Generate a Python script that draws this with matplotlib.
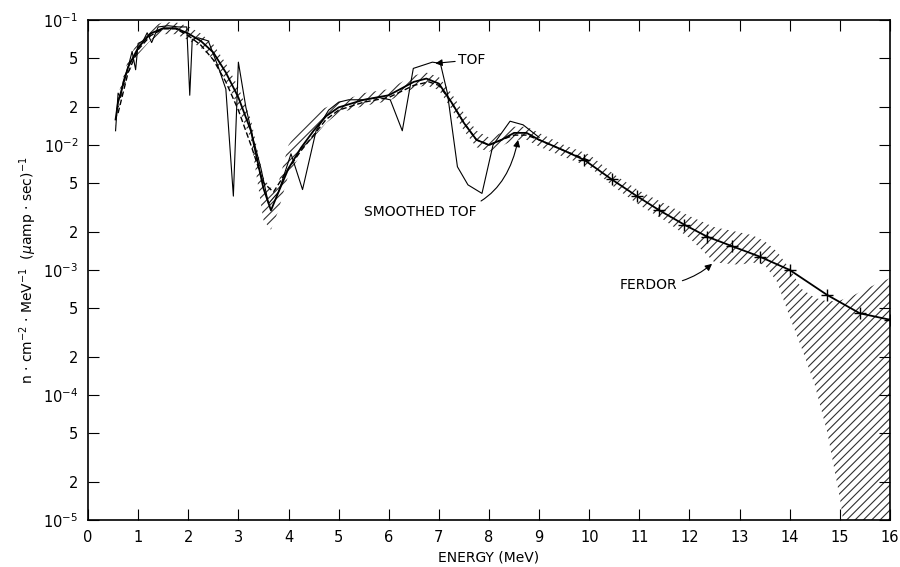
import matplotlib
matplotlib.use("Agg")
import matplotlib.pyplot as plt
from matplotlib.ticker import FixedLocator, FixedFormatter, NullLocator
import numpy as np

plt.rcParams['font.family'] = ['DejaVu Sans']
plt.rcParams['hatch.linewidth'] = 0.8
plt.rcParams['hatch.color'] = '#303030'

# ---------------- data ----------------
# FERDOR unfolded spectrum (central line) and its uncertainty band
ferdor_E = [0.55, 0.6, 0.8, 1.0, 1.25, 1.5, 1.75, 2.0, 2.25, 2.5, 2.75, 3.0, 3.25,
            3.5, 3.65, 3.8, 4.0, 4.25, 4.5, 4.75, 5.0, 5.5, 6.0, 6.5, 6.75, 7.0,
            7.25, 7.5, 7.75, 8.0, 8.25, 8.5, 8.75, 9.0, 9.45, 9.9, 10.45, 10.95,
            11.4, 11.9, 12.35, 12.85, 13.4, 14.0, 14.75, 15.4, 16.0]
ferdor_v = [1.6e-2, 2.2e-2, 4.2e-2, 6.0e-2, 7.8e-2, 8.6e-2, 8.6e-2, 7.8e-2, 6.8e-2,
            5.5e-2, 3.8e-2, 2.4e-2, 1.3e-2, 4.5e-3, 3.0e-3, 4.2e-3, 6.5e-3, 9.5e-3,
            1.3e-2, 1.7e-2, 2.0e-2, 2.3e-2, 2.5e-2, 3.2e-2, 3.4e-2, 3.1e-2, 2.2e-2,
            1.5e-2, 1.1e-2, 1.0e-2, 1.1e-2, 1.25e-2, 1.25e-2, 1.1e-2, 9.2e-3,
            7.6e-3, 5.3e-3, 3.9e-3, 3.0e-3, 2.3e-3, 1.85e-3, 1.55e-3, 1.28e-3,
            1.0e-3, 6.3e-4, 4.5e-4, 4.0e-4]
ferdor_marked_from = 35  # '+' symbols are drawn from 9.9 MeV on

band_E = [0.55, 0.6, 0.8, 1.0, 1.25, 1.5, 1.75, 2.0, 2.25, 2.5, 2.75, 3.0, 3.25,
          3.5, 3.65, 3.8, 4.0, 4.25, 4.5, 4.75, 5.0, 5.5, 6.0, 6.5, 6.75, 7.0,
          7.25, 7.5, 7.75, 8.0, 8.25, 8.5, 8.75, 9.0, 9.5, 10.0, 10.5, 11.0,
          11.5, 12.0, 12.5, 13.0, 13.25, 13.5, 13.75, 14.0, 14.25, 14.5, 14.75,
          15.0, 15.1, 15.25, 15.5, 15.75, 16.0]
band_hi = [1.8e-2, 2.5e-2, 4.8e-2, 6.8e-2, 8.8e-2, 9.6e-2, 9.6e-2, 8.9e-2, 7.8e-2,
           6.4e-2, 4.5e-2, 2.9e-2, 1.6e-2, 5.5e-3, 4.5e-3, 5.0e-3, 1.0e-2, 1.4e-2,
           1.8e-2, 2.0e-2, 2.2e-2, 2.6e-2, 2.8e-2, 3.6e-2, 3.8e-2, 3.5e-2, 2.6e-2,
           1.8e-2, 1.3e-2, 1.15e-2, 1.25e-2, 1.4e-2, 1.4e-2, 1.25e-2, 1.0e-2,
           8.4e-3, 5.8e-3, 4.3e-3, 3.4e-3, 2.7e-3, 2.2e-3, 2.0e-3, 1.9e-3,
           1.7e-3, 1.4e-3, 1.02e-3, 7.0e-4, 6.0e-4, 5.6e-4, 5.7e-4, 5.9e-4,
           6.2e-4, 7.0e-4, 7.8e-4, 8.6e-4]
band_lo = [1.4e-2, 1.9e-2, 3.7e-2, 5.3e-2, 6.9e-2, 7.7e-2, 7.7e-2, 6.9e-2, 6.0e-2,
           4.8e-2, 3.3e-2, 2.0e-2, 1.1e-2, 2.5e-3, 2.1e-3, 3.0e-3, 5.8e-3, 8.5e-3,
           1.15e-2, 1.5e-2, 1.8e-2, 2.05e-2, 2.25e-2, 2.85e-2, 3.0e-2, 2.75e-2,
           1.95e-2, 1.3e-2, 9.6e-3, 8.8e-3, 9.8e-3, 1.1e-2, 1.1e-2, 9.7e-3,
           8.0e-3, 6.7e-3, 4.6e-3, 3.3e-3, 2.5e-3, 1.8e-3, 1.15e-3, 1.1e-3,
           1.15e-3, 1.1e-3, 8.0e-4, 4.2e-4, 2.3e-4, 1.2e-4, 5.0e-5, 1.5e-5,
           8.0e-6, 5.0e-6, 5.0e-6, 5.0e-6, 5.0e-6]

# time-of-flight spectrum
tof_E = [0.55, 0.6, 0.65, 0.7, 0.8, 0.88, 0.95, 1.0, 1.1, 1.18, 1.27, 1.4, 1.6,
         1.8, 1.97, 2.03, 2.08, 2.2, 2.4, 2.6, 2.75, 2.9, 3.0, 3.15, 3.3, 3.45,
         3.6, 3.8, 4.05, 4.28, 4.55, 4.8, 5.0, 5.2, 5.5, 5.8, 6.03, 6.27, 6.49,
         6.87, 7.03, 7.17, 7.37, 7.58, 7.86, 8.08, 8.42, 8.68, 9.0]
tof_v = [1.3e-2, 2.6e-2, 2.4e-2, 3.2e-2, 4.2e-2, 5.6e-2, 4.0e-2, 6.5e-2, 6.8e-2,
         7.9e-2, 6.6e-2, 8.8e-2, 9.0e-2, 8.8e-2, 8.8e-2, 2.5e-2, 7.0e-2, 7.2e-2,
         6.8e-2, 4.2e-2, 2.8e-2, 3.9e-3, 4.6e-2, 2.0e-2, 1.1e-2, 6.5e-3, 3.4e-3,
         4.2e-3, 8.5e-3, 4.4e-3, 1.3e-2, 1.9e-2, 2.2e-2, 2.3e-2, 2.3e-2, 2.4e-2,
         2.3e-2, 1.3e-2, 4.1e-2, 4.6e-2, 4.5e-2, 2.6e-2, 6.7e-3, 4.8e-3, 4.1e-3,
         1.0e-2, 1.55e-2, 1.45e-2, 1.15e-2]

# smoothed time-of-flight spectrum
smooth_E = [0.6, 0.8, 1.0, 1.25, 1.5, 1.75, 2.0, 2.25, 2.5, 2.75, 3.0, 3.25, 3.5,
            3.7, 4.0, 4.25, 4.5, 4.75, 5.0, 5.5, 6.0, 6.5, 6.8, 7.0, 7.25, 7.5,
            7.75, 8.0, 8.25, 8.5, 8.75, 9.0, 9.5, 10.0]
smooth_v = [1.8e-2, 3.8e-2, 5.8e-2, 7.5e-2, 8.5e-2, 8.5e-2, 7.5e-2, 6.3e-2, 4.8e-2,
            3.2e-2, 1.9e-2, 1.0e-2, 5.0e-3, 4.2e-3, 6.5e-3, 9.0e-3, 1.2e-2, 1.6e-2,
            1.9e-2, 2.2e-2, 2.4e-2, 3.0e-2, 3.2e-2, 3.0e-2, 2.2e-2, 1.5e-2, 1.1e-2,
            1.0e-2, 1.1e-2, 1.2e-2, 1.2e-2, 1.1e-2, 9.0e-3, 7.5e-3]

x_ticks = list(range(0, 17))
y_ticks = [1e-5, 2e-5, 5e-5, 1e-4, 2e-4, 5e-4, 1e-3, 2e-3, 5e-3, 1e-2, 2e-2, 5e-2, 1e-1]
y_labels = [r'10$^{-5}$', '2', '5', r'10$^{-4}$', '2', '5', r'10$^{-3}$', '2', '5',
            r'10$^{-2}$', '2', '5', r'10$^{-1}$']

# ---------------- figure ----------------
fig = plt.figure(figsize=(9.0, 5.67), dpi=100)
ax = fig.add_axes([88 / 900, 1 - 520 / 567, (890 - 88) / 900, (520 - 20) / 567])
ax.set_yscale('log')
ax.set_xlim(0, 16)
ax.set_ylim(1e-5, 1e-1)

ax.fill_between(band_E, band_lo, band_hi, facecolor='none', edgecolor='#303030',
                linewidth=0, hatch='////', zorder=1)
ax.plot(smooth_E, smooth_v, color='black', lw=1.0, ls=(0, (4, 2)), zorder=2)
ax.plot(tof_E, tof_v, color='black', lw=0.8, zorder=3)
ax.plot(ferdor_E, ferdor_v, color='black', lw=1.3, marker='+', ms=8, mew=1.0,
        markevery=list(range(ferdor_marked_from, len(ferdor_E))), zorder=4)

ax.annotate('TOF', xy=(6.93, 4.5e-2), xytext=(7.38, 4.8e-2), fontsize=10,
            va='center', ha='left',
            arrowprops=dict(arrowstyle='-|>', color='black', lw=0.8,
                            mutation_scale=10, shrinkA=0, shrinkB=0))
ax.annotate('SMOOTHED TOF', xy=(8.58, 1.1e-2), xytext=(5.5, 2.9e-3), fontsize=10,
            va='center', ha='left',
            arrowprops=dict(arrowstyle='-|>', color='black', lw=0.8,
                            mutation_scale=10, shrinkA=2, shrinkB=0,
                            connectionstyle='arc3,rad=0.45'))
ax.annotate('FERDOR', xy=(12.45, 1.12e-3), xytext=(10.6, 7.6e-4), fontsize=10,
            va='center', ha='left',
            arrowprops=dict(arrowstyle='-|>', color='black', lw=0.8,
                            mutation_scale=10, shrinkA=2, shrinkB=0,
                            connectionstyle='arc3,rad=0.2'))

ax.yaxis.set_major_locator(FixedLocator(y_ticks))
ax.yaxis.set_major_formatter(FixedFormatter(y_labels))
ax.yaxis.set_minor_locator(NullLocator())
ax.xaxis.set_major_locator(FixedLocator(x_ticks))
ax.xaxis.set_minor_locator(NullLocator())
ax.tick_params(axis='both', which='major', direction='in', length=8, width=0.8,
               labelsize=10.5, top=True, right=True, pad=7)
for s in ax.spines.values():
    s.set_linewidth(1.2)

ax.set_xlabel('ENERGY (MeV)', fontsize=10, labelpad=4)
ax.set_ylabel(r'n $\cdot$ cm$^{-2}$ $\cdot$ MeV$^{-1}$  ($\mu$amp $\cdot$ sec)$^{-1}$',
              fontsize=10, labelpad=3)

fig.savefig('out.png', dpi=100)
